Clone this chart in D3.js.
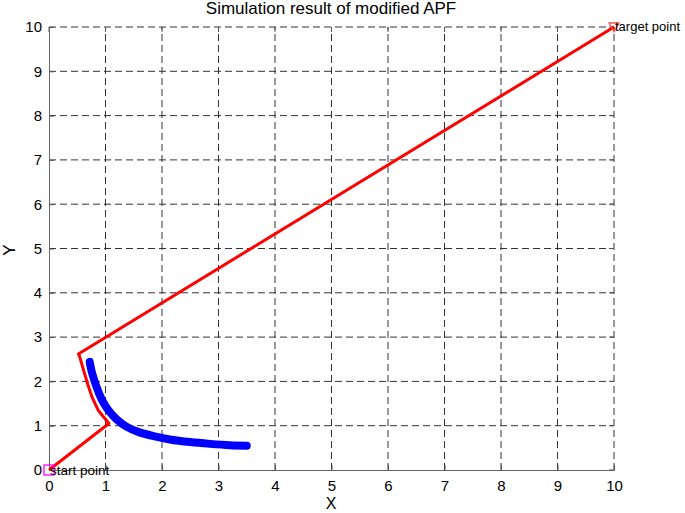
<!DOCTYPE html>
<html><head><meta charset="utf-8">
<script src="https://cdn.jsdelivr.net/npm/d3@7"></script>
<style>body{margin:0;background:#fff;} text{font-family:"Liberation Sans",Arial,sans-serif;}</style>
</head><body>
<svg id="c" width="685" height="513"></svg>
<script>
const xTicks = [0,1,2,3,4,5,6,7,8,9,10];
const yTicks = [0,1,2,3,4,5,6,7,8,9,10];
const redX = [0, 1.06, 0.87, 0.76, 0.68, 0.61, 0.54, 0.52, 10];
const redY = [0, 1.05, 1.35, 1.65, 1.96, 2.26, 2.57, 2.62, 10];
const blueX = [0.72, 0.76, 0.84, 0.93, 1.05, 1.2, 1.37, 1.6, 1.91, 2.14, 2.5, 2.85, 3.2, 3.5];
const blueY = [2.44, 2.2, 1.88, 1.6, 1.35, 1.14, 0.98, 0.85, 0.75, 0.69, 0.63, 0.59, 0.56, 0.55];
const startPt = [0, 0], targetPt = [10, 10];

const svg = d3.select("#c");
const x = d3.scaleLinear().domain([0,10]).range([49,614]);
const y = d3.scaleLinear().domain([0,10]).range([470,27]);

// grid
const g = svg.append("g");
g.selectAll(".gx").data(xTicks.slice(1)).enter().append("line")
 .attr("x1",d=>x(d)).attr("x2",d=>x(d)).attr("y1",y(0)).attr("y2",y(10))
 .attr("stroke","#333").attr("stroke-width",1).attr("stroke-dasharray","7,4");
g.selectAll(".gy").data(yTicks.slice(1)).enter().append("line")
 .attr("y1",d=>y(d)).attr("y2",d=>y(d)).attr("x1",x(0)).attr("x2",x(10))
 .attr("stroke","#333").attr("stroke-width",1).attr("stroke-dasharray","7,4");

// top & right ticks
g.selectAll(".tt").data(xTicks).enter().append("line")
 .attr("x1",d=>x(d)).attr("x2",d=>x(d)).attr("y1",y(10)).attr("y2",y(10)+5).attr("stroke","#555");
g.selectAll(".tr").data(yTicks).enter().append("line")
 .attr("y1",d=>y(d)).attr("y2",d=>y(d)).attr("x1",x(10)).attr("x2",x(10)-5).attr("stroke","#555");

// axes
const xa = svg.append("g").attr("transform",`translate(0,${y(0)})`)
 .call(d3.axisBottom(x).tickValues(xTicks).tickSize(-5).tickPadding(10).tickFormat(d3.format("d")));
const ya = svg.append("g").attr("transform",`translate(${x(0)},0)`)
 .call(d3.axisLeft(y).tickValues(yTicks).tickSize(-5).tickPadding(7).tickFormat(d3.format("d")));
[xa,ya].forEach(a=>{
  a.select(".domain").attr("stroke","#666");
  a.selectAll(".tick line").attr("stroke","#555");
  a.selectAll(".tick text").attr("fill","#000").style("font-size","15px").style("font-family","Liberation Sans, Arial, sans-serif");
});

// paths
const line = d3.line().x(d=>x(d[0])).y(d=>y(d[1]));
svg.append("path").datum(redX.map((v,i)=>[v,redY[i]])).attr("d",line)
 .attr("fill","none").attr("stroke","#ff0000").attr("stroke-width",3).attr("stroke-linejoin","round");
svg.append("path").datum(blueX.map((v,i)=>[v,blueY[i]]))
 .attr("d",d3.line().curve(d3.curveCatmullRom).x(d=>x(d[0])).y(d=>y(d[1])))
 .attr("fill","none").attr("stroke","#0000ff").attr("stroke-width",8).attr("stroke-linecap","round").attr("stroke-linejoin","round");

// markers
svg.append("rect").attr("x",x(startPt[0])-5).attr("y",y(startPt[1])-5).attr("width",10).attr("height",10)
 .attr("fill","none").attr("stroke","#ff00ff").attr("stroke-width",1.3);
const tx = x(targetPt[0]), ty = y(targetPt[1]);
svg.append("path").attr("d",`M${tx-5},${ty-4}L${tx+5},${ty-4}L${tx},${ty+5}Z`)
 .attr("fill","none").attr("stroke","#ff5050").attr("stroke-width",1.3);

svg.append("text").attr("x",x(startPt[0])+1).attr("y",y(startPt[1])+5).text("start point").style("font-size","13.5px");
svg.append("text").attr("x",tx+1).attr("y",ty+4).text("target point").style("font-size","13px");

// labels
svg.append("text").attr("x",331).attr("y",14).attr("text-anchor","middle").text("Simulation result of modified APF").style("font-size","17px");
svg.append("text").attr("x",331).attr("y",509).attr("text-anchor","middle").text("X").style("font-size","16px");
svg.append("text").attr("transform","translate(15,250) rotate(-90)").attr("text-anchor","middle").text("Y").style("font-size","17px");
</script>
</body></html>
